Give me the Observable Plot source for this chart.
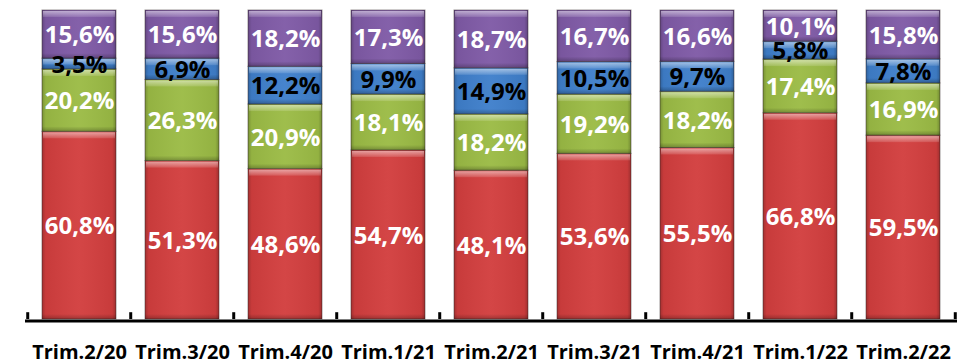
<!DOCTYPE html>
<html>
<head>
<meta charset="utf-8">
<script src="https://cdn.jsdelivr.net/npm/d3@7"></script>
<script src="https://cdn.jsdelivr.net/npm/@observablehq/plot@0.6"></script>
<style>
  html, body { margin: 0; padding: 0; background: #fff; }
  #chart { width: 973px; height: 364px; }
</style>
</head>
<body>
<div id="chart"></div>
<script>
const categories = ["Trim.2/20", "Trim.3/20", "Trim.4/20", "Trim.1/21", "Trim.2/21", "Trim.3/21", "Trim.4/21", "Trim.1/22", "Trim.2/22"];
const seriesNames = ["A", "B", "C", "D"];
const seriesColors = ["#d23e3e", "#9bbb45", "#3f7fcb", "#7f5aa6"];
const labelColors = ["#ffffff", "#ffffff", "#000000", "#ffffff"];
const valuesA = [60.8, 51.3, 48.6, 54.7, 48.1, 53.6, 55.5, 66.8, 59.5];
const valuesB = [20.2, 26.3, 20.9, 18.1, 18.2, 19.2, 18.2, 17.4, 16.9];
const valuesC = [3.5, 6.9, 12.2, 9.9, 14.9, 10.5, 9.7, 5.8, 7.8];
const valuesD = [15.6, 15.6, 18.2, 17.3, 18.7, 16.7, 16.6, 10.1, 15.8];

const seriesValues = [valuesA, valuesB, valuesC, valuesD];
const data = [];
categories.forEach((c, i) => {
  seriesNames.forEach((s, j) => {
    data.push({cat: c, series: s, value: seriesValues[j][i], idx: j});
  });
});

const W = 973, H = 364, mL = 25, mR = 16, mT = 10, mB = 45;
const step = (W - mL - mR) / categories.length;
const fmt = v => v.toFixed(1).replace(".", ",") + "%";

const defs = () => {
  const ns = "http://www.w3.org/2000/svg";
  const g = document.createElementNS(ns, "defs");
  g.innerHTML = `
    <linearGradient id="shineH" x1="0" y1="0" x2="1" y2="0">
      <stop offset="0" stop-color="#000" stop-opacity="0.22"/>
      <stop offset="0.05" stop-color="#000" stop-opacity="0.05"/>
      <stop offset="0.5" stop-color="#fff" stop-opacity="0.04"/>
      <stop offset="0.95" stop-color="#000" stop-opacity="0.05"/>
      <stop offset="1" stop-color="#000" stop-opacity="0.25"/>
    </linearGradient>
    <linearGradient id="topHi" x1="0" y1="0" x2="0" y2="1">
      <stop offset="0" stop-color="#fff" stop-opacity="0.5"/>
      <stop offset="1" stop-color="#fff" stop-opacity="0.12"/>
    </linearGradient>
    <linearGradient id="botSh" x1="0" y1="0" x2="0" y2="1">
      <stop offset="0" stop-color="#000" stop-opacity="0"/>
      <stop offset="1" stop-color="#000" stop-opacity="0.25"/>
    </linearGradient>`;
  return g;
};

// render helper: keep only a strip of given height at top or bottom of each rect
const strip = (h, where) => (index, scales, values, dims, context, next) => {
  const g = next(index, scales, values, dims, context);
  g.querySelectorAll("rect").forEach(r => {
    const y = +r.getAttribute("y"), hh = +r.getAttribute("height");
    const x = +r.getAttribute("x"), w = +r.getAttribute("width");
    const sh = Math.min(h, hh / 2);
    if (where === "top") {
      r.setAttribute("y", y + 1);
      r.setAttribute("height", sh);
      r.setAttribute("x", x + 1);
      r.setAttribute("width", w - 2);
    } else {
      r.setAttribute("y", y + hh - sh);
      r.setAttribute("height", sh);
    }
  });
  return g;
};

const stackOpts = {x: "cat", y: "value", z: "series", offset: "normalize", order: seriesNames};

const chart = Plot.plot({
  width: W,
  height: H,
  marginLeft: mL,
  marginRight: mR,
  marginTop: mT,
  marginBottom: mB,
  style: {fontFamily: "'Open Sans', sans-serif", color: "#000", background: "#fff"},
  x: {domain: categories, paddingInner: 0.28, paddingOuter: 0.14, label: null},
  y: {axis: null, domain: [0, 1]},
  color: {domain: seriesNames, range: seriesColors},
  marks: [
    defs,
    Plot.barY(data, Plot.stackY({...stackOpts, fill: "series", stroke: "#3a2e2e", strokeOpacity: 0.5, strokeWidth: 1})),
    Plot.barY(data, Plot.stackY({...stackOpts, fill: "url(#shineH)"})),
    Plot.barY(data, Plot.stackY({...stackOpts, fill: "url(#topHi)", render: strip(6, "top")})),
    Plot.barY(data, Plot.stackY({...stackOpts, fill: "url(#botSh)", render: strip(5, "bottom")})),
    Plot.text(data, Plot.stackY({...stackOpts, text: d => fmt(d.value), fill: d => labelColors[d.idx], fontSize: 24, fontWeight: "bold", dy: 1})),
    Plot.ruleY([0], {stroke: "#000", strokeWidth: 3, dy: 1.5}),
    Plot.ruleX(categories, {x: d => d, y1: 0, y2: 0.022, dx: -step / 2, stroke: "#000", strokeWidth: 3}),
    Plot.ruleX([categories[categories.length - 1]], {x: d => d, y1: 0, y2: 0.022, dx: step / 2, stroke: "#000", strokeWidth: 3}),
    Plot.axisX({tickSize: 0, tickPadding: 25, fontSize: 20, fontWeight: "bold", fill: "#000", label: null})
  ]
});
document.getElementById("chart").appendChild(chart);
</script>
</body>
</html>
